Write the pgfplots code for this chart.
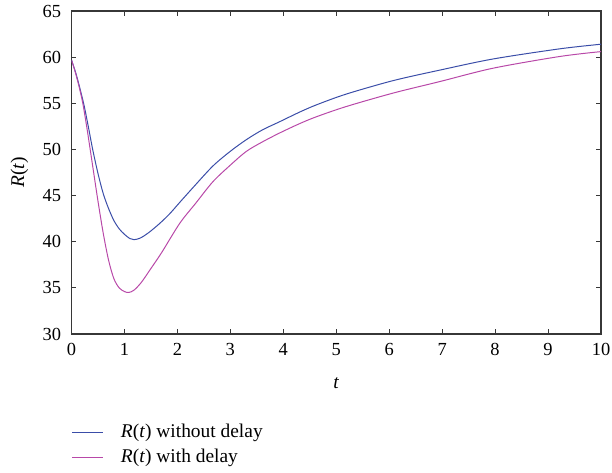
\documentclass[border=0pt]{standalone}
\usepackage{fontspec}
\setmainfont{Liberation Serif}
\usepackage{pgfplots}
\pgfplotsset{compat=1.18}
\definecolor{cblue}{RGB}{58,77,168}
\definecolor{cmag}{RGB}{184,72,168}
\definecolor{axgray}{RGB}{55,55,55}
\begin{document}
\fontsize{19.5}{23}\selectfont
\begin{tikzpicture}
\begin{axis}[
    scale only axis,
    width=529.5bp, height=323bp,
    xmin=0, xmax=10, ymin=30, ymax=65,
    xtick={0,1,...,10},
    ytick={30,35,...,65},
    tick align=inside,
    major tick length=5bp,
    axis line style={draw=axgray, line width=1.1pt},
    every tick/.style={axgray, line width=1pt},
    /pgf/number format/assume math mode=true,
    tick label style={font=\fontsize{18.5}{22}\selectfont, inner sep=1bp},
    yticklabel style={xshift=-9.2bp},
    xticklabel style={yshift=-8.2bp},
    xlabel={\textit{t}},
    ylabel={\textit{R}(\textit{t})},
    label style={font=\fontsize{19.5}{23}\selectfont, inner sep=1bp},
    xlabel style={at={(axis description cs:0.5,0)}, anchor=center, yshift=-49bp},
    ylabel style={at={(axis description cs:0,0.5)}, anchor=center, yshift=52bp},
    legend cell align=left,
    legend style={at={(axis description cs:0,0)}, anchor=north west,
        xshift=0.5bp, yshift=-90bp, draw=none, fill=none,
        inner sep=0pt, outer sep=0pt, nodes={inner sep=0pt},
        row sep=8.5bp, column sep=17bp,
        font=\fontsize{19.5}{23}\selectfont},
    legend image code/.code={\draw[#1] (0bp,0bp) -- (31bp,0bp);},
]
% R(t) without delay
\addplot[cblue, line width=1pt, smooth, tension=0.5] coordinates {
    (0,59.7) (0.08,58.3) (0.16,56.6) (0.24,54.7) (0.32,52.4) (0.4,50.0)
    (0.5,47.4) (0.6,45.2) (0.7,43.6) (0.8,42.3) (0.9,41.4) (1.0,40.8)
    (1.1,40.35) (1.18,40.22) (1.3,40.4) (1.45,40.95) (1.65,41.9) (1.85,43.0)
    (2.05,44.3) (2.3,45.9) (2.67,48.2) (3.0,49.8) (3.3,51.05) (3.6,52.1)
    (3.93,53.0) (4.31,54.05) (4.63,54.84) (5.19,56.0) (6.07,57.45) (6.96,58.6)
    (7.96,59.8) (9.22,60.9) (10,61.4)
};
\addlegendentry{\textit{R}(\textit{t}) without delay}
% R(t) with delay
\addplot[cmag, line width=1pt, smooth, tension=0.5] coordinates {
    (0,59.7) (0.08,58.2) (0.16,56.4) (0.22,54.8) (0.3,52.0) (0.4,48.2)
    (0.5,44.4) (0.6,40.9) (0.7,38.0) (0.8,36.0) (0.9,35.0) (1.0,34.6)
    (1.08,34.5) (1.18,34.75) (1.32,35.6) (1.5,37.1) (1.7,38.8) (2.045,42.0)
    (2.35,44.2) (2.67,46.5) (3.0,48.3) (3.3,49.78) (3.6,50.8) (3.93,51.78)
    (4.31,52.8) (4.63,53.55) (5.19,54.65) (6.07,56.1) (6.96,57.36) (7.96,58.8)
    (9.22,60.07) (10,60.6)
};
\addlegendentry{\textit{R}(\textit{t}) with delay}
\end{axis}
\path (current axis.south west) ++(-71.5bp,-139bp) rectangle ++(612bp,473bp);
\end{tikzpicture}
\end{document}
